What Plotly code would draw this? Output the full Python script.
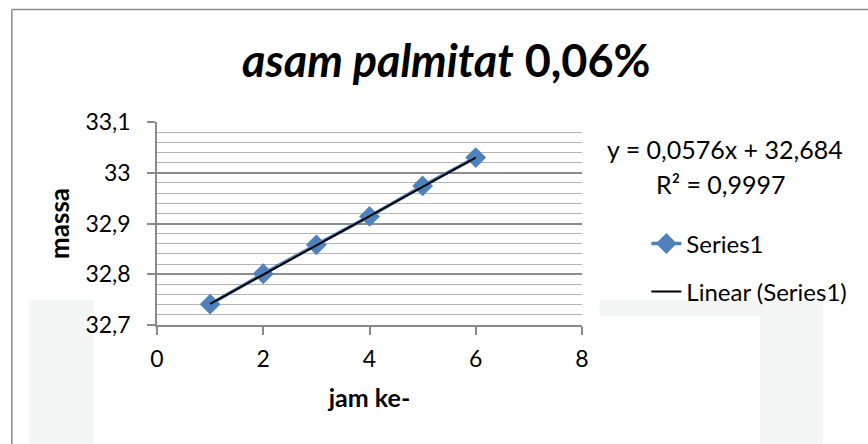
import plotly.graph_objects as go

# Mass measurements per hour
jam = [1, 2, 3, 4, 5, 6]
massa = [32.741, 32.801, 32.858, 32.914, 32.974, 33.030]

# Linear trendline coefficients
slope = [0.0576]
intercept = [32.684]
r_squared = [0.9997]

x_ticks = [0, 2, 4, 6, 8]
y_ticks = [32.7, 32.8, 32.9, 33.0, 33.1]
y_tick_text = ["32,7", "32,8", "32,9", "33", "33,1"]

FONT = "Lato"
W, H = 868, 444
ML, MR, MT, MB = 156.5, 285.5, 122.3, 119


def px_x(px):
    return (px - ML) / (W - ML - MR)


def px_y(py):
    return (H - MB - py) / (H - MT - MB)


def fmt(v, nd):
    return f"{v:.{nd}f}".replace(".", ",")


trend_x = [jam[0], jam[-1]]
trend_y = [slope[0] * x + intercept[0] for x in trend_x]

fig = go.Figure()
fig.add_trace(go.Scatter(
    x=jam, y=massa, mode="lines+markers", name="Series1",
    line=dict(color="#4f81bd", width=3.5),
    marker=dict(symbol="diamond", size=16, color="#4f81bd"),
    legend="legend", showlegend=True,
))
fig.add_trace(go.Scatter(
    x=trend_x, y=trend_y, mode="lines", name="Linear (Series1)",
    line=dict(color="#000000", width=2),
    legend="legend2", showlegend=True,
))

# faint background pattern
bg = "#f3f6f4"
shapes = [
    dict(type="rect", xref="paper", yref="paper", layer="below",
         x0=px_x(28), x1=px_x(93), y0=px_y(444), y1=px_y(300),
         fillcolor=bg, line_width=0),
    dict(type="rect", xref="paper", yref="paper", layer="below",
         x0=px_x(600), x1=px_x(824), y0=px_y(316), y1=px_y(300),
         fillcolor=bg, line_width=0),
    dict(type="rect", xref="paper", yref="paper", layer="below",
         x0=px_x(761), x1=px_x(824), y0=px_y(444), y1=px_y(300),
         fillcolor=bg, line_width=0),
    # chart frame
    dict(type="line", xref="paper", yref="paper",
         x0=px_x(11), x1=px_x(870), y0=px_y(10), y1=px_y(10),
         line=dict(color="#8a8a8a", width=1.5)),
    dict(type="line", xref="paper", yref="paper",
         x0=px_x(11), x1=px_x(11), y0=px_y(10), y1=px_y(446),
         line=dict(color="#8a8a8a", width=1.5)),
]

annotations = [
    dict(text="<b><i>asam palmitat</i> 0,06%</b>", xref="paper", yref="paper",
         x=px_x(446), y=px_y(60), xanchor="center", yanchor="middle",
         showarrow=False, font=dict(family=FONT, size=45, color="#000")),
    dict(text=f"y = {fmt(slope[0], 4)}x + {fmt(intercept[0], 3)}",
         xref="paper", yref="paper", x=px_x(726), y=px_y(149),
         xanchor="center", yanchor="middle", showarrow=False,
         font=dict(family=FONT, size=25, color="#000")),
    dict(text=f"R² = {fmt(r_squared[0], 4)}",
         xref="paper", yref="paper", x=px_x(722), y=px_y(184),
         xanchor="center", yanchor="middle", showarrow=False,
         font=dict(family=FONT, size=25, color="#000")),
]

fig.update_layout(
    width=W, height=H, showlegend=True,
    margin=dict(l=ML, r=MR, t=MT, b=MB, autoexpand=False),
    paper_bgcolor="white", plot_bgcolor="rgba(0,0,0,0)",
    font=dict(family=FONT, size=23, color="#000"),
    shapes=shapes, annotations=annotations,
    legend=dict(x=px_x(647), y=px_y(244), xanchor="left", yanchor="middle",
                bgcolor="rgba(0,0,0,0)", font=dict(family=FONT, size=24)),
    legend2=dict(x=px_x(647), y=px_y(292), xanchor="left", yanchor="middle",
                 bgcolor="rgba(0,0,0,0)", font=dict(family=FONT, size=24)),
    xaxis=dict(
        range=[0, 8], tickvals=x_ticks, ticktext=[str(v) for v in x_ticks],
        showgrid=False, zeroline=False,
        showline=True, linecolor="#8a8a8a", linewidth=1.5,
        ticks="outside", ticklen=8, tickcolor="#8a8a8a", tickwidth=1.5,
        ticklabelstandoff=5,
        title=dict(text="<b>jam ke-</b>", font=dict(size=25), standoff=18),
    ),
    yaxis=dict(
        range=[32.7, 33.1], tickvals=y_ticks, ticktext=y_tick_text,
        showgrid=True, gridcolor="#8c8c8c", gridwidth=1.5, zeroline=False,
        showline=True, linecolor="#8a8a8a", linewidth=1.5,
        ticks="outside", ticklen=8, tickcolor="#8a8a8a", tickwidth=1.5,
        ticklabelstandoff=12,
        minor=dict(dtick=0.02, showgrid=True, gridcolor="#b4b4b4", gridwidth=1.2),
        title=dict(text="<b>massa</b>", font=dict(size=26), standoff=8),
    ),
)

fig.write_html("out.html")
